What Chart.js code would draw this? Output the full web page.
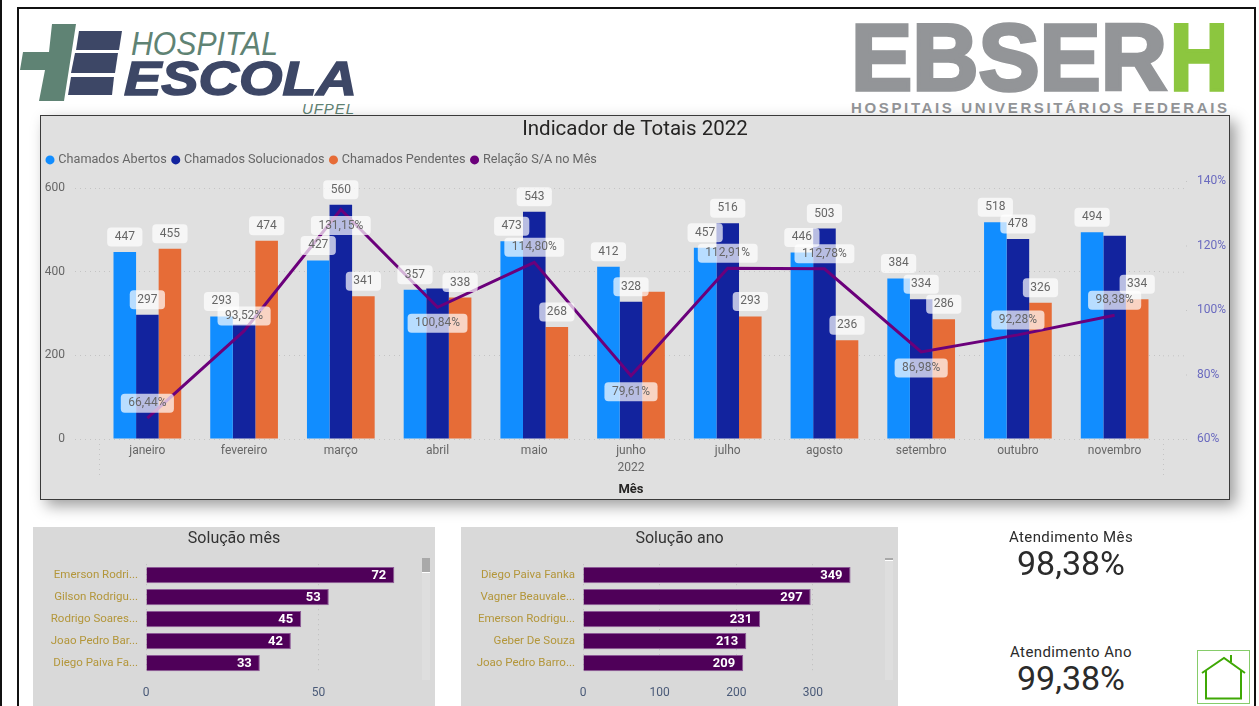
<!DOCTYPE html>
<html lang="pt-BR">
<head>
<meta charset="UTF-8">
<title>Indicador de Totais 2022</title>
<script src="https://cdn.jsdelivr.net/npm/chart.js"></script>
<style>
  html, body { margin: 0; padding: 0; background: #fff; overflow: hidden; }
  body { width: 1259px; height: 706px; position: relative; font-family: Roboto, sans-serif; }
  .abs { position: absolute; }
  #edge { left: 0; top: 0; width: 2px; height: 706px; background: #111; }
  #frame { left: 17px; top: 7px; width: 1235px; height: 720px; border: 2px solid #111; }
  #card { left: 40px; top: 115px; width: 1188px; height: 383px; background: #e0e0e0; border: 1px solid #3a3a3a;
          box-shadow: 6px 6px 14px rgba(0,0,0,.38); }
  .panel { background: #d9d9d9; top: 527px; height: 179px; }
  .track { top: 558px; width: 8px; height: 122px; background: #dedede; }
  .thumb { top: 558px; width: 8px; background: #a9a9a9; border-bottom: 1px solid #fff; }
  canvas { position: absolute; display: block; }
  .kpi { left: 960px; width: 222px; text-align: center; color: #2b2b2b; line-height: 1; white-space: nowrap; }
  .kpi.name { font-size: 15px; letter-spacing: .4px; }
  .kpi.val { font-size: 34px; }
</style>
</head>
<body>
<div class="abs" id="edge"></div>
<div class="abs" id="frame"></div>

<svg class="abs" style="left:0;top:0" width="1259" height="116">
  <polygon points="52,24 76,24 64,101 39,101 45,70 20,70 23,52 49,52" fill="#5f8374"/>
  <polygon points="79,31 122,31 119,50 76,50" fill="#3d4766"/>
  <polygon points="75,53 118,53 115,73 71,73" fill="#3d4766"/>
  <polygon points="71,77 114,77 112,95 68,95" fill="#3d4766"/>
  <text x="131" y="55" font-family="Liberation Sans" font-style="italic" font-size="33" fill="#5f8374" textLength="147" lengthAdjust="spacingAndGlyphs">HOSPITAL</text>
  <text x="124" y="95" font-family="Liberation Sans" font-style="italic" font-weight="bold" font-size="48" fill="#3d4766" stroke="#3d4766" stroke-width="1.5" textLength="233" lengthAdjust="spacingAndGlyphs">ESCOLA</text>
  <text x="302" y="114" font-family="Liberation Sans" font-style="italic" font-size="15" fill="#5f8374" textLength="52">UFPEL</text>
  <text x="851" y="89.5" font-family="Liberation Sans" font-weight="bold" font-size="95" fill="#939598" stroke="#939598" stroke-width="3.5" textLength="316" lengthAdjust="spacingAndGlyphs">EBSER</text>
  <text x="1170" y="89.5" font-family="Liberation Sans" font-weight="bold" font-size="95" fill="#8cc63f" stroke="#8cc63f" stroke-width="3.5" textLength="58" lengthAdjust="spacingAndGlyphs">H</text>
  <text x="851" y="113" font-family="Liberation Sans" font-weight="bold" font-size="15" fill="#939598" textLength="376">HOSPITAIS UNIVERSITÁRIOS FEDERAIS</text>
</svg>

<div class="abs" id="card"></div>
<canvas id="mainChart" width="1188" height="382" style="left:41px;top:116px"></canvas>

<div class="abs panel" style="left:33px;width:402px"></div>
<canvas id="mesChart" width="402" height="179" style="left:33px;top:527px"></canvas>
<div class="abs track" style="left:422px"></div>
<div class="abs thumb" style="left:422px;height:14px"></div>

<div class="abs panel" style="left:461px;width:437px"></div>
<canvas id="anoChart" width="437" height="179" style="left:461px;top:527px"></canvas>
<div class="abs track" style="left:885px"></div>
<div class="abs thumb" style="left:885px;height:2px"></div>

<div class="abs kpi name" style="top:530px">Atendimento Mês</div>
<div class="abs kpi val" style="top:546px">98,38%</div>
<div class="abs kpi name" style="top:645px">Atendimento Ano</div>
<div class="abs kpi val" style="top:661px">99,38%</div>

<svg class="abs" style="left:1197px;top:650px" width="54" height="55">
  <rect x="0.5" y="0.5" width="52" height="53" fill="none" stroke="#86cc6a"/>
  <path d="M5 23 L27 8 L48 23 M34 12 L34 5 M9 20 L9 48 M44 20 L44 48 M8 48.5 L45 48.5" fill="none" stroke="#3fa805" stroke-width="2"/>
</svg>

<script>
const meses = ['janeiro', 'fevereiro', 'março', 'abril', 'maio', 'junho', 'julho', 'agosto', 'setembro', 'outubro', 'novembro'];
const abertos = [447, 293, 427, 357, 473, 412, 457, 446, 384, 518, 494];
const solucionados = [297, 274, 560, 360, 543, 328, 516, 503, 334, 478, 486];
const pendentes = [455, 474, 341, 338, 268, 352, 293, 236, 286, 326, 334];
const relacao = [66.44, 93.52, 131.15, 100.84, 114.80, 79.61, 112.91, 112.78, 86.98, 92.28, 98.38];

// labels the original hides because they collide
const semRotuloSolucionados = [1, 3, 10];
const semRotuloPendentes = [5];
// percent label goes under the point for these months
const relacaoAbaixo = [2, 3, 5, 8];

const ticksTotais = [0, 200, 400, 600];
const ticksRelacao = [60, 80, 100, 120, 140];

const nomesMes = ['Emerson Rodri...', 'Gilson Rodrigu...', 'Rodrigo Soares...', 'Joao Pedro Bar...', 'Diego Paiva Fa...'];
const solucaoMes = [72, 53, 45, 42, 33];
const ticksMes = [0, 50];

const nomesAno = ['Diego Paiva Fanka', 'Vagner Beauvale...', 'Emerson Rodrigu...', 'Geber De Souza', 'Joao Pedro Barro...'];
const solucaoAno = [349, 297, 231, 213, 209];
const ticksAno = [0, 100, 200, 300];

const fonte = 'Roboto';
Chart.defaults.font.family = fonte;
Chart.defaults.animation = false;

function caixa(ctx, cx, cy, texto) {
  ctx.font = '12px ' + fonte;
  const w = ctx.measureText(texto).width + 15;
  ctx.fillStyle = 'rgba(255,255,255,.7)';
  ctx.beginPath();
  ctx.roundRect(cx - w / 2, cy - 9.5, w, 19, 4);
  ctx.fill();
  ctx.fillStyle = '#666';
  ctx.textAlign = 'center';
  ctx.textBaseline = 'middle';
  ctx.fillText(texto, cx, cy);
}

const rotulosPlugin = {
  id: 'rotulos',
  afterDatasetsDraw(chart) {
    const ctx = chart.ctx;
    ctx.save();
    [[0, []], [1, semRotuloSolucionados], [2, semRotuloPendentes]].forEach(([ds, ocultos]) => {
      chart.getDatasetMeta(ds).data.forEach((bar, i) => {
        if (!ocultos.includes(i)) caixa(ctx, bar.x, bar.y - 15, String(chart.data.datasets[ds].data[i]));
      });
    });
    chart.getDatasetMeta(3).data.forEach((pt, i) => {
      const dy = relacaoAbaixo.includes(i) ? 16 : -15;
      caixa(ctx, pt.x, pt.y + dy, relacao[i].toFixed(2).replace('.', ',') + '%');
    });
    ctx.restore();
  }
};

// dotted lines that run past the plot area, as in the original
const gradePlugin = {
  id: 'gradeExtra',
  beforeLayout(chart) {
    // keep some air between legend and plot
    if (chart.legend.fitOriginal) return;
    chart.legend.fitOriginal = chart.legend.fit;
    chart.legend.fit = function () { this.fitOriginal(); this.height = 34.4; };
  },
  beforeDatasetsDraw(chart) {
    const { ctx, chartArea: a, scales } = chart;
    ctx.save();
    ctx.strokeStyle = '#c4c4c4';
    ctx.setLineDash([1, 4]);
    ctx.beginPath();
    ticksTotais.forEach(v => {
      const y = scales.y.getPixelForValue(v);
      ctx.moveTo(a.right, y + 0.5);
      ctx.lineTo(a.right + 22, y + 0.5);
    });
    ticksRelacao.forEach(v => {
      const y = scales.y1.getPixelForValue(v);
      ctx.moveTo(a.right + 23, y + 0.5);
      ctx.lineTo(a.right + 27, y + 0.5);
    });
    [a.left, a.right].forEach(x => {
      ctx.moveTo(x + 0.5, a.bottom);
      ctx.lineTo(x + 0.5, a.bottom + 38);
    });
    ctx.stroke();
    ctx.restore();
  }
};

new Chart(document.getElementById('mainChart'), {
  type: 'bar',
  data: {
    labels: meses.map(m => m === 'junho' ? [m, '2022'] : m),
    datasets: [
      { label: 'Chamados Abertos', data: abertos, backgroundColor: '#118dff', yAxisID: 'y' },
      { label: 'Chamados Solucionados', data: solucionados, backgroundColor: '#12239e', yAxisID: 'y' },
      { label: 'Chamados Pendentes', data: pendentes, backgroundColor: '#e66c37', yAxisID: 'y' },
      { type: 'line', label: 'Relação S/A no Mês', data: relacao, borderColor: '#6b007b', backgroundColor: '#6b007b',
        borderWidth: 3, pointRadius: 0, tension: 0, yAxisID: 'y1', order: -1 }
    ]
  },
  options: {
    responsive: false,
    categoryPercentage: 0.7,
    barPercentage: 1,
    plugins: {
      tooltip: { enabled: false },
      title: { display: true, text: 'Indicador de Totais 2022', color: '#252423',
               font: { size: 20.5, weight: 'normal' }, padding: { top: 2, bottom: 4 } },
      legend: {
        position: 'top', align: 'start',
        labels: {
          usePointStyle: true, boxWidth: 4, boxHeight: 6.4, padding: 7, color: '#666',
          font: { size: 12.65 },
          sort: (a, b) => a.datasetIndex - b.datasetIndex,
          generateLabels: c => Chart.defaults.plugins.legend.labels.generateLabels(c).map(l => ({ ...l, lineWidth: 0 }))
        }
      }
    },
    scales: {
      x: {
        grid: { display: false, tickLength: 0 }, border: { display: false },
        ticks: { color: '#666', font: { size: 12, lineHeight: 1.4 }, padding: 4, maxRotation: 0, autoSkip: false },
        title: { display: true, text: 'Mês', color: '#252423', font: { size: 13, weight: 'bold' }, padding: 0 },
        afterFit: s => { s.height = 59; }
      },
      y: {
        position: 'left', min: 0, max: 616.8,
        afterBuildTicks: s => { s.ticks = ticksTotais.map(value => ({ value })); },
        afterFit: s => { s.width = 58; },
        border: { display: false, dash: [1, 4] },
        grid: { color: '#c4c4c4', tickColor: '#c4c4c4', tickLength: 24, tickBorderDash: [1, 4] },
        ticks: { color: '#666', font: { size: 12 }, padding: 10 }
      },
      y1: {
        position: 'right', min: 60, max: 140,
        afterBuildTicks: s => { s.ticks = ticksRelacao.map(value => ({ value })); },
        afterFit: s => { s.width = 66; },
        border: { display: false },
        grid: { display: false, tickLength: 0 },
        ticks: { color: '#6a6abf', font: { size: 12 }, padding: 34, callback: v => v + '%' }
      }
    }
  },
  plugins: [gradePlugin, rotulosPlugin]
});

const valoresPlugin = {
  id: 'valores',
  afterDatasetsDraw(chart) {
    const ctx = chart.ctx;
    ctx.save();
    ctx.font = 'bold 13px ' + fonte;
    ctx.fillStyle = '#fff';
    ctx.textAlign = 'right';
    ctx.textBaseline = 'middle';
    chart.getDatasetMeta(0).data.forEach((bar, i) => {
      ctx.fillText(chart.data.datasets[0].data[i], bar.x - 8, bar.y + 1);
    });
    ctx.restore();
  }
};

function barrasHorizontais(id, titulo, nomes, valores, marcas, maximo, larguraNomes) {
  new Chart(document.getElementById(id), {
    type: 'bar',
    data: { labels: nomes, datasets: [{ data: valores, backgroundColor: '#4f0059', borderColor: '#8d5a97', borderWidth: 1 }] },
    options: {
      indexAxis: 'y',
      responsive: false,
      categoryPercentage: 0.74,
      barPercentage: 1,
      plugins: {
        tooltip: { enabled: false },
        legend: { display: false },
        title: { display: true, text: titulo, color: '#333', font: { size: 16, weight: 'normal' }, padding: { top: 2, bottom: 16 } }
      },
      scales: {
        x: {
          min: 0, max: maximo,
          afterBuildTicks: s => { s.ticks = marcas.map(value => ({ value })); },
          afterFit: s => { s.height = 32; },
          border: { display: false, dash: [1, 4] },
          grid: { color: '#bdbdbd', drawTicks: false, tickLength: 0 },
          ticks: { color: '#4a5a78', font: { size: 12 }, padding: 12, maxRotation: 0 }
        },
        y: {
          afterFit: s => { s.width = larguraNomes; },
          border: { display: false },
          grid: { display: false, tickLength: 0 },
          ticks: { color: '#b3963a', font: { size: 11.5 }, padding: 8, autoSkip: false }
        }
      }
    },
    plugins: [valoresPlugin]
  });
}

barrasHorizontais('mesChart', 'Solução mês', nomesMes, solucaoMes, ticksMes, 83.8, 113);
barrasHorizontais('anoChart', 'Solução ano', nomesAno, solucaoAno, ticksAno, 410.9, 122);
</script>
</body>
</html>
